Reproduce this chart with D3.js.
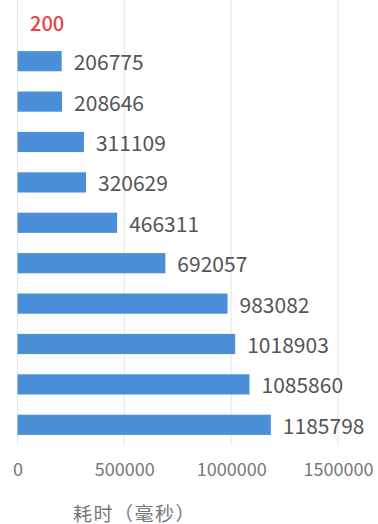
<!DOCTYPE html>
<html><head><meta charset="utf-8">
<script src="https://cdn.jsdelivr.net/npm/d3@7/dist/d3.min.js"></script>
<style>html,body{margin:0;padding:0;background:#fff;}svg{display:block;}</style>
</head><body>
<svg id="chart" width="378" height="524"></svg>
<script>
const categories = ["1","2","3","4","5","6","7","8","9","10"];
const values = [206775, 208646, 311109, 320629, 466311, 692057, 983082, 1018903, 1085860, 1185798];
const xTicks = [0, 500000, 1000000, 1500000];
const topLabel = "200";
const axisName = "耗时（毫秒）";

const font = "'Noto Sans CJK SC','Noto Sans',sans-serif";
const svg = d3.select("#chart");
const x = d3.scaleLinear().domain([0, 1500000]).range([17.5, 338]);
const y = d3.scaleBand().domain(categories).range([41, 445]).paddingInner(0.5).paddingOuter(0.25);

// gridlines
svg.append("g").selectAll("line").data(xTicks).join("line")
  .attr("x1", d => x(d)).attr("x2", d => x(d))
  .attr("y1", 0).attr("y2", 445)
  .attr("stroke", "#e6e6e6").attr("stroke-width", 1);

// bars
svg.append("g").selectAll("rect").data(values).join("rect")
  .attr("x", x(0)).attr("y", (d, i) => y(categories[i]))
  .attr("width", d => x(d) - x(0)).attr("height", y.bandwidth())
  .attr("fill", "#4a8fd8");

// value labels
svg.append("g").selectAll("text").data(values).join("text")
  .attr("x", d => x(d) + 12).attr("y", (d, i) => y(categories[i]) + y.bandwidth() / 2)
  .attr("dominant-baseline", "central")
  .attr("font-family", font).attr("font-size", 21).attr("fill", "#555")
  .text(d => d);

// x axis tick labels
const xAxis = d3.axisBottom(x).tickValues(xTicks).tickSize(0).tickPadding(0).tickFormat(d3.format("d"));
const ax = svg.append("g").attr("transform", "translate(0,463)").call(xAxis);
ax.select(".domain").remove();
ax.selectAll("text").attr("font-family", font).attr("font-size", 18).attr("fill", "#777");

// axis name
svg.append("text").attr("x", 73).attr("y", 512).attr("dominant-baseline", "central")
  .attr("font-family", font).attr("font-size", 19).attr("letter-spacing", 1.5).attr("fill", "#777").text(axisName);

// top red label
svg.append("text").attr("x", 30).attr("y", 22).attr("dominant-baseline", "central")
  .attr("font-family", font).attr("font-size", 20).attr("font-weight", 500).attr("fill", "#e8414a").text(topLabel);
</script>
</body></html>
